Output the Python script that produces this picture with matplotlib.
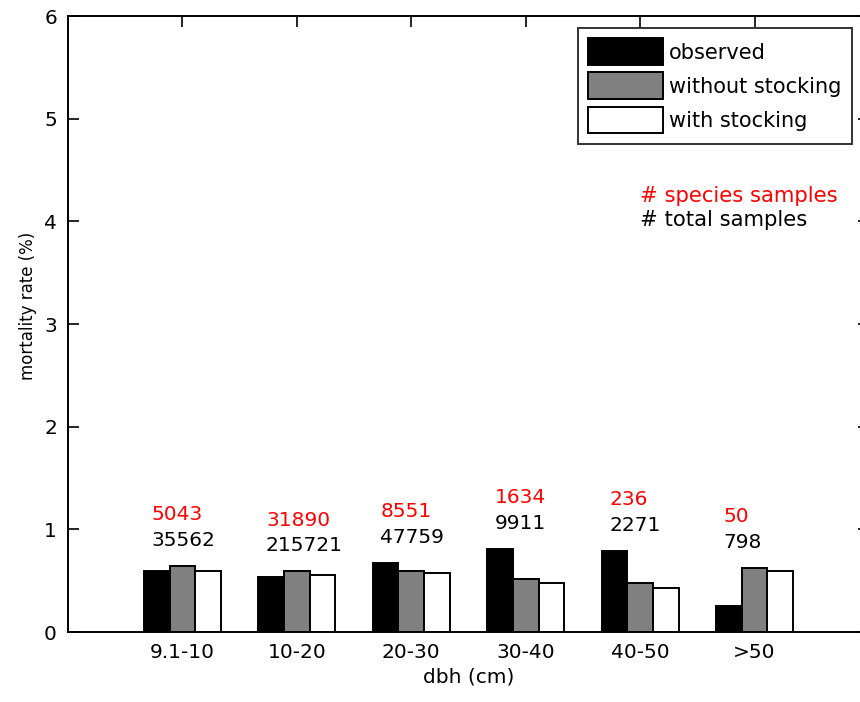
import numpy as np
import matplotlib
matplotlib.use("Agg")
import matplotlib.pyplot as plt

# --- Data ---
classes = ["9.1-10", "10-20", "20-30", "30-40", "40-50", ">50"]
observed = [0.59, 0.54, 0.67, 0.81, 0.79, 0.25]
without_stocking = [0.645, 0.59, 0.595, 0.515, 0.48, 0.625]
with_stocking = [0.59, 0.555, 0.57, 0.48, 0.43, 0.59]
species_samples = [5043, 31890, 8551, 1634, 236, 50]
total_samples = [35562, 215721, 47759, 9911, 2271, 798]

FS = 14.5
plt.rcParams["font.family"] = "DejaVu Sans"
plt.rcParams["font.size"] = FS

fig = plt.figure(figsize=(8.6, 7.02), dpi=100)
# axes run slightly past the right edge of the figure
ax = fig.add_axes([68 / 860, 70 / 702, 801 / 860, 616 / 702])

x = np.arange(1, len(classes) + 1)
w = 0.225
series = [
    (observed, "black", "observed"),
    (without_stocking, "#808080", "without stocking"),
    (with_stocking, "white", "with stocking"),
]
for k, (vals, col, lab) in enumerate(series):
    ax.bar(x + (k - 1) * w, vals, width=w, color=col, edgecolor="black",
           linewidth=1.4, label=lab, zorder=2)

# sample counts above each group
for i in range(len(classes)):
    top = max(observed[i], without_stocking[i], with_stocking[i])
    ax.text(x[i] - 0.27, top + 0.5, str(species_samples[i]), color="red",
            ha="left", va="center", fontsize=FS)
    ax.text(x[i] - 0.27, top + 0.25, str(total_samples[i]), color="black",
            ha="left", va="center", fontsize=FS)

ax.text(5.0, 4.25, "# species samples", color="red", ha="left", va="center", fontsize=15.2)
ax.text(5.0, 4.01, "# total samples", color="black", ha="left", va="center", fontsize=15.2)

ax.set_xlim(0, 7)
ax.set_ylim(0, 6)
ax.set_xticks(x)
ax.set_xticklabels(classes)
ax.set_yticks(range(0, 7))
ax.tick_params(direction="in", length=8, width=1.2, top=True, right=True, pad=8)
for s in ax.spines.values():
    s.set_linewidth(1.4)
ax.set_xlabel("dbh (cm)", fontsize=14.5, labelpad=4)
ax.set_ylabel("mortality rate (%)", fontsize=12)
ax.yaxis.set_label_coords(-0.039, 0.529)

leg = fig.legend(loc="upper right", bbox_to_anchor=(852 / 860, 1 - 28 / 702),
                 borderaxespad=0, fontsize=15, frameon=True, fancybox=False,
                 handlelength=3.6, handleheight=1.6, handletextpad=0.3,
                 labelspacing=0.35, borderpad=0.5)
leg.get_frame().set_edgecolor("black")
leg.get_frame().set_linewidth(1.4)

fig.savefig("out.png", dpi=100)
